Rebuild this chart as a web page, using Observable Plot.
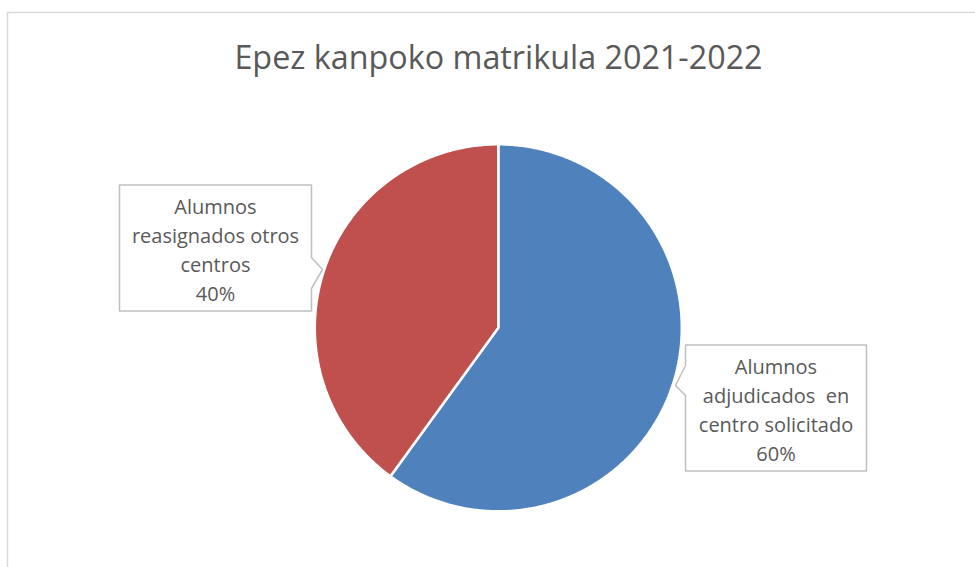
<!DOCTYPE html>
<html>
<head>
<meta charset="utf-8">
<script src="https://cdn.jsdelivr.net/npm/d3@7"></script>
<script src="https://cdn.jsdelivr.net/npm/@observablehq/plot@0.6"></script>
<style>
  html, body { margin: 0; padding: 0; background: #fff; }
  #chart svg { display: block; }
</style>
</head>
<body>
<div id="chart"></div>
<script>
// ---- data ----
const title = "Epez kanpoko matrikula 2021-2022";
const categories = ["Alumnos adjudicados  en centro solicitado", "Alumnos reasignados otros centros"];
const labelLines = [["Alumnos", "adjudicados  en", "centro solicitado"], ["Alumnos", "reasignados otros", "centros"]];
const shares = [60, 40];
const colors = ["#4F81BD", "#C0504D"];

// ---- layout ----
const W = 975, H = 567;
const pie = {cx: 497.8, cy: 327.3, r: 183.5};
// label callout boxes: center, size, pointer side + tip
const boxes = [
  {cx: 775.5, cy: 407.5, w: 181, h: 126, side: "left", p0: 365, p1: 395, tipX: 675, tipY: 385},
  {cx: 215, cy: 247.5, w: 192, h: 126, side: "right", p0: 257, p1: 288, tipX: 322, tipY: 269}
];

const total = d3.sum(shares);
const arcs = d3.pie().sort(null).value(d => d)(shares);

// slice polygons (derived from d3.pie angles)
const slicePts = arcs.map((a, i) => {
  const pts = [{x: pie.cx, y: pie.cy, k: i}];
  const n = Math.max(2, Math.ceil((a.endAngle - a.startAngle) / (Math.PI / 360)));
  for (let j = 0; j <= n; j++) {
    const t = a.startAngle + (a.endAngle - a.startAngle) * j / n;
    pts.push({x: pie.cx + pie.r * Math.sin(t), y: pie.cy - pie.r * Math.cos(t), k: i});
  }
  return pts;
});

// callout polygons
const boxPts = boxes.map((b, i) => {
  const x0 = b.cx - b.w / 2, x1 = b.cx + b.w / 2, y0 = b.cy - b.h / 2, y1 = b.cy + b.h / 2;
  let pts;
  if (b.side === "left") {
    pts = [[x0, y0], [x1, y0], [x1, y1], [x0, y1], [x0, b.p1], [b.tipX, b.tipY], [x0, b.p0]];
  } else {
    pts = [[x0, y0], [x1, y0], [x1, b.p0], [b.tipX, b.tipY], [x1, b.p1], [x1, y1], [x0, y1]];
  }
  return pts.map(([x, y]) => ({x, y, k: i}));
});

const labels = boxes.map((b, i) => ({
  x: b.cx, y: b.cy,
  text: [...labelLines[i], `${Math.round(shares[i] / total * 100)}%`].join("\n")
}));

const font = "'Open Sans', 'Noto Sans', sans-serif";

const marks = [
  Plot.ruleX([7], {y1: 12, y2: H, stroke: "#d9d9d9", strokeWidth: 1.5}),
  Plot.ruleY([12], {x1: 7, x2: W, stroke: "#d9d9d9", strokeWidth: 1.5}),
  Plot.text([title], {x: 498, y: 58, text: d => d, fontSize: 32.3, fill: "#595959", fontFamily: font}),
  ...slicePts.map((pts, i) => Plot.line(pts, {x: "x", y: "y", curve: "linear-closed", fill: colors[i], stroke: "white", strokeWidth: 2.5, strokeLinejoin: "miter"})),
  ...boxPts.map(pts => Plot.line(pts, {x: "x", y: "y", curve: "linear-closed", fill: "white", stroke: "#bfbfbf", strokeWidth: 1.5, strokeLinejoin: "miter"})),
  Plot.text(labels, {x: "x", y: "y", text: "text", fontSize: 20, lineHeight: 1.45, fill: "#595959", fontFamily: font})
];

const chart = Plot.plot({
  width: W, height: H,
  margin: 0,
  x: {type: "identity", axis: null},
  y: {type: "identity", axis: null},
  style: {background: "white", fontFamily: font},
  marks
});
document.getElementById("chart").append(chart);
</script>
</body>
</html>
